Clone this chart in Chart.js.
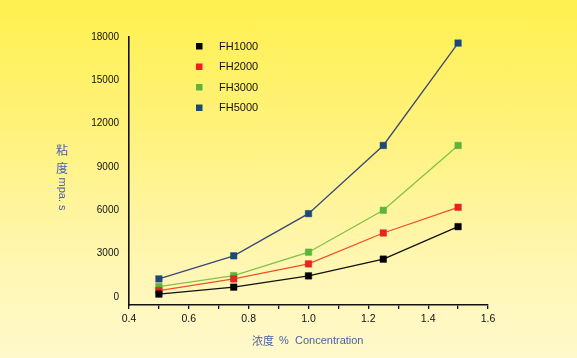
<!DOCTYPE html>
<html>
<head>
<meta charset="utf-8">
<script src="https://cdn.jsdelivr.net/npm/chart.js@4"></script>
<style>
  html, body { margin: 0; padding: 0; }
  body {
    width: 577px; height: 358px; overflow: hidden;
    background: linear-gradient(#fef04e 0%, #fff27a 35%, #fff6ae 70%, #fff9cc 100%);
  }
  #wrap { position: relative; width: 577px; height: 358px; }
</style>
</head>
<body>
<div id="wrap"><canvas id="visc-chart" width="577" height="358"></canvas></div>
<script>
// Concentration (%) on x, viscosity (mpa.s) on y
var concentration = [0.5, 0.75, 1.0, 1.25, 1.5];
var fh1000 = [200, 680, 1460, 2620, 4870];
var fh2000 = [440, 1250, 2290, 4430, 6210];
var fh3000 = [720, 1480, 3100, 6000, 10490];
var fh5000 = [1250, 2850, 5770, 10490, 17580];
var seriesNames = ['FH1000', 'FH2000', 'FH3000', 'FH5000'];
var yTickValues = [0, 3000, 6000, 9000, 12000, 15000, 18000];
var xTickValues = [0.4, 0.5, 0.6, 0.7, 0.8, 0.9, 1.0, 1.1, 1.2, 1.3, 1.4, 1.5, 1.6];
var xLabelValues = [0.4, 0.6, 0.8, 1.0, 1.2, 1.4, 1.6];

function toPoints(ys) {
    return ys.map(function(v, i) { return { x: concentration[i], y: v }; });
}

function makeSet(label, ys, lineColor, markColor) {
    return {
        label: label,
        data: toPoints(ys),
        borderColor: lineColor,
        borderWidth: 1.3,
        pointStyle: 'rect',
        pointRadius: 4.6,
        pointBackgroundColor: markColor,
        pointBorderColor: markColor,
        pointBorderWidth: 0.5,
        tension: 0
    };
}

// legend + axis titles drawn on the canvas
var decorations = {
    id: 'decorations',
    afterDraw: function(chart) {
        var ctx = chart.ctx;
        ctx.save();
        // legend
        var ly = [46, 66.5, 87, 107.5];
        ctx.font = '11px "Liberation Sans", Arial, sans-serif';
        ctx.textBaseline = 'middle';
        ctx.textAlign = 'left';
        chart.data.datasets.forEach(function(ds, i) {
            ctx.fillStyle = ds.pointBackgroundColor;
            ctx.fillRect(196, ly[i] - 3, 6.5, 6.5);
            ctx.fillStyle = '#111';
            ctx.fillText(ds.label, 219, ly[i] + 0.5);
        });
        // y title
        ctx.fillStyle = '#4a62a8';
        ctx.font = '12px "Noto Sans CJK SC", sans-serif';
        ctx.textAlign = 'center';
        ctx.fillText('粘', 62, 150);
        ctx.fillText('度', 62, 168);
        ctx.translate(62, 194);
        ctx.rotate(Math.PI / 2);
        ctx.font = '11px "Liberation Sans", Arial, sans-serif';
        ctx.fillText('mpa. s', 0, 0);
        ctx.restore();
        // x title
        ctx.save();
        ctx.fillStyle = '#4a62a8';
        ctx.textBaseline = 'middle';
        ctx.textAlign = 'left';
        ctx.font = '11px "Noto Sans CJK SC", sans-serif';
        ctx.fillText('浓度', 252, 341);
        ctx.font = '11px "Liberation Sans", Arial, sans-serif';
        ctx.fillText('%', 279, 341);
        ctx.fillText('Concentration', 295, 341);
        ctx.restore();
    }
};

var viscChart = new Chart(document.getElementById('visc-chart'), {
    type: 'line',
    data: {
        datasets: [
            makeSet(seriesNames[0], fh1000, '#111111', '#000000'),
            makeSet(seriesNames[1], fh2000, '#f0502a', '#e82420'),
            makeSet(seriesNames[2], fh3000, '#80c248', '#5cb53a'),
            makeSet(seriesNames[3], fh5000, '#3a4878', '#1c4a78')
        ]
    },
    options: {
        responsive: false,
        maintainAspectRatio: false,
        animation: false,
        layout: { padding: { top: 37, right: 89, bottom: 0, left: 0 } },
        plugins: {
            legend: { display: false },
            tooltip: { enabled: false }
        },
        scales: {
            x: {
                type: 'linear',
                min: 0.4,
                max: 1.6,
                afterBuildTicks: function(scale) {
                    scale.ticks = xTickValues.map(function(v) { return { value: v }; });
                },
                afterFit: function(scale) { scale.height = 53; },
                border: { display: true, color: '#111', width: 1.6 },
                grid: { display: true, drawOnChartArea: false, drawTicks: true, tickLength: 4, color: '#111', lineWidth: 1.3 },
                ticks: {
                    autoSkip: false,
                    maxRotation: 0,
                    padding: 4,
                    color: '#111',
                    font: { family: '"Liberation Sans", Arial, sans-serif', size: 10.5 },
                    callback: function(value) {
                        var show = xLabelValues.some(function(v) { return Math.abs(v - value) < 1e-6; });
                        return show ? value.toFixed(1) : '';
                    }
                }
            },
            y: {
                type: 'linear',
                min: -556,
                max: 18000,
                afterBuildTicks: function(scale) {
                    scale.ticks = yTickValues.map(function(v) { return { value: v }; });
                },
                afterFit: function(scale) { scale.width = 129; },
                border: { display: true, color: '#111', width: 1.6 },
                grid: { display: false, drawTicks: false },
                ticks: {
                    padding: 10,
                    color: '#111',
                    font: { family: '"Liberation Sans", Arial, sans-serif', size: 10 },
                    callback: function(value) { return String(value); }
                }
            }
        }
    },
    plugins: [decorations]
});
</script>
</body>
</html>
